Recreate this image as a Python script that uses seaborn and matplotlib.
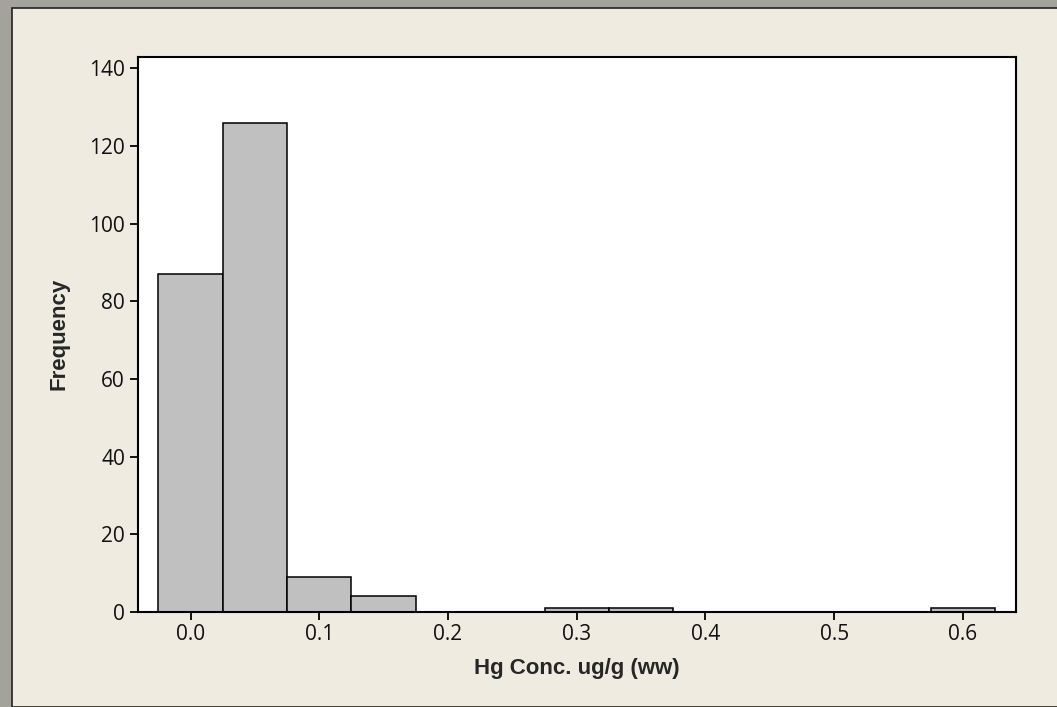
import numpy as np
import pandas as pd
import matplotlib
matplotlib.use("Agg")
import matplotlib.pyplot as plt
import seaborn as sns
from matplotlib.patches import Rectangle

# ====================== data ======================

bin_centers = [0.0, 0.05, 0.1, 0.15, 0.2, 0.25, 0.3, 0.35, 0.4, 0.45, 0.5, 0.55, 0.6]
counts = [87, 126, 9, 4, 0, 0, 1, 1, 0, 0, 0, 0, 1]
bin_width = 0.05
x_ticks = [0.0, 0.1, 0.2, 0.3, 0.4, 0.5, 0.6]
y_ticks = [0, 20, 40, 60, 80, 100, 120, 140]

df = pd.DataFrame({'conc': bin_centers, 'n': counts})

# ====================== figure ======================

sns.set_style("white")
plt.rcParams['font.family'] = ['Open Sans', 'DejaVu Sans']

fig = plt.figure(figsize=(10.57, 7.07), dpi=100, facecolor='#a3a39c')
# beige panel over the stone border
fig.add_artist(Rectangle((11.7 / 1057, 0), 1.0, (707 - 7.5) / 707,
                         transform=fig.transFigure, facecolor='#efebe1',
                         edgecolor='#222222', linewidth=1.2, zorder=-10))

ax = fig.add_axes([137.5 / 1057, (707 - 612) / 707, (1016 - 137.5) / 1057, (612 - 56.7) / 707])
ax.set_facecolor('white')

sns.histplot(data=df, x='conc', weights='n', binwidth=bin_width,
             binrange=(bin_centers[0] - bin_width / 2, bin_centers[-1] + bin_width / 2),
             ax=ax, color='#c0c0c0', alpha=1, edgecolor='black', linewidth=1.1)

ax.set_xlim(-0.0412, 0.6412)
ax.set_ylim(0, 143)
ax.set_xticks(x_ticks)
ax.set_xticklabels([f'{t:.1f}' for t in x_ticks])
ax.set_yticks(y_ticks)

for s in ax.spines.values():
    s.set_visible(True)
    s.set_color('black')
    s.set_linewidth(1.5)

ax.tick_params(axis='both', direction='out', length=6, width=1.3, color='black',
               labelsize=15, labelcolor='#111111', pad=3, bottom=True, left=True)

ax.set_xlabel('Hg Conc. ug/g (ww)', family=['Liberation Sans', 'DejaVu Sans'],
              fontweight='bold', fontsize=16, labelpad=9)
ax.set_ylabel('Frequency', family=['Liberation Sans', 'DejaVu Sans'],
              fontweight='bold', fontsize=16, labelpad=14)

fig.savefig('out.png', dpi=100, facecolor=fig.get_facecolor())
